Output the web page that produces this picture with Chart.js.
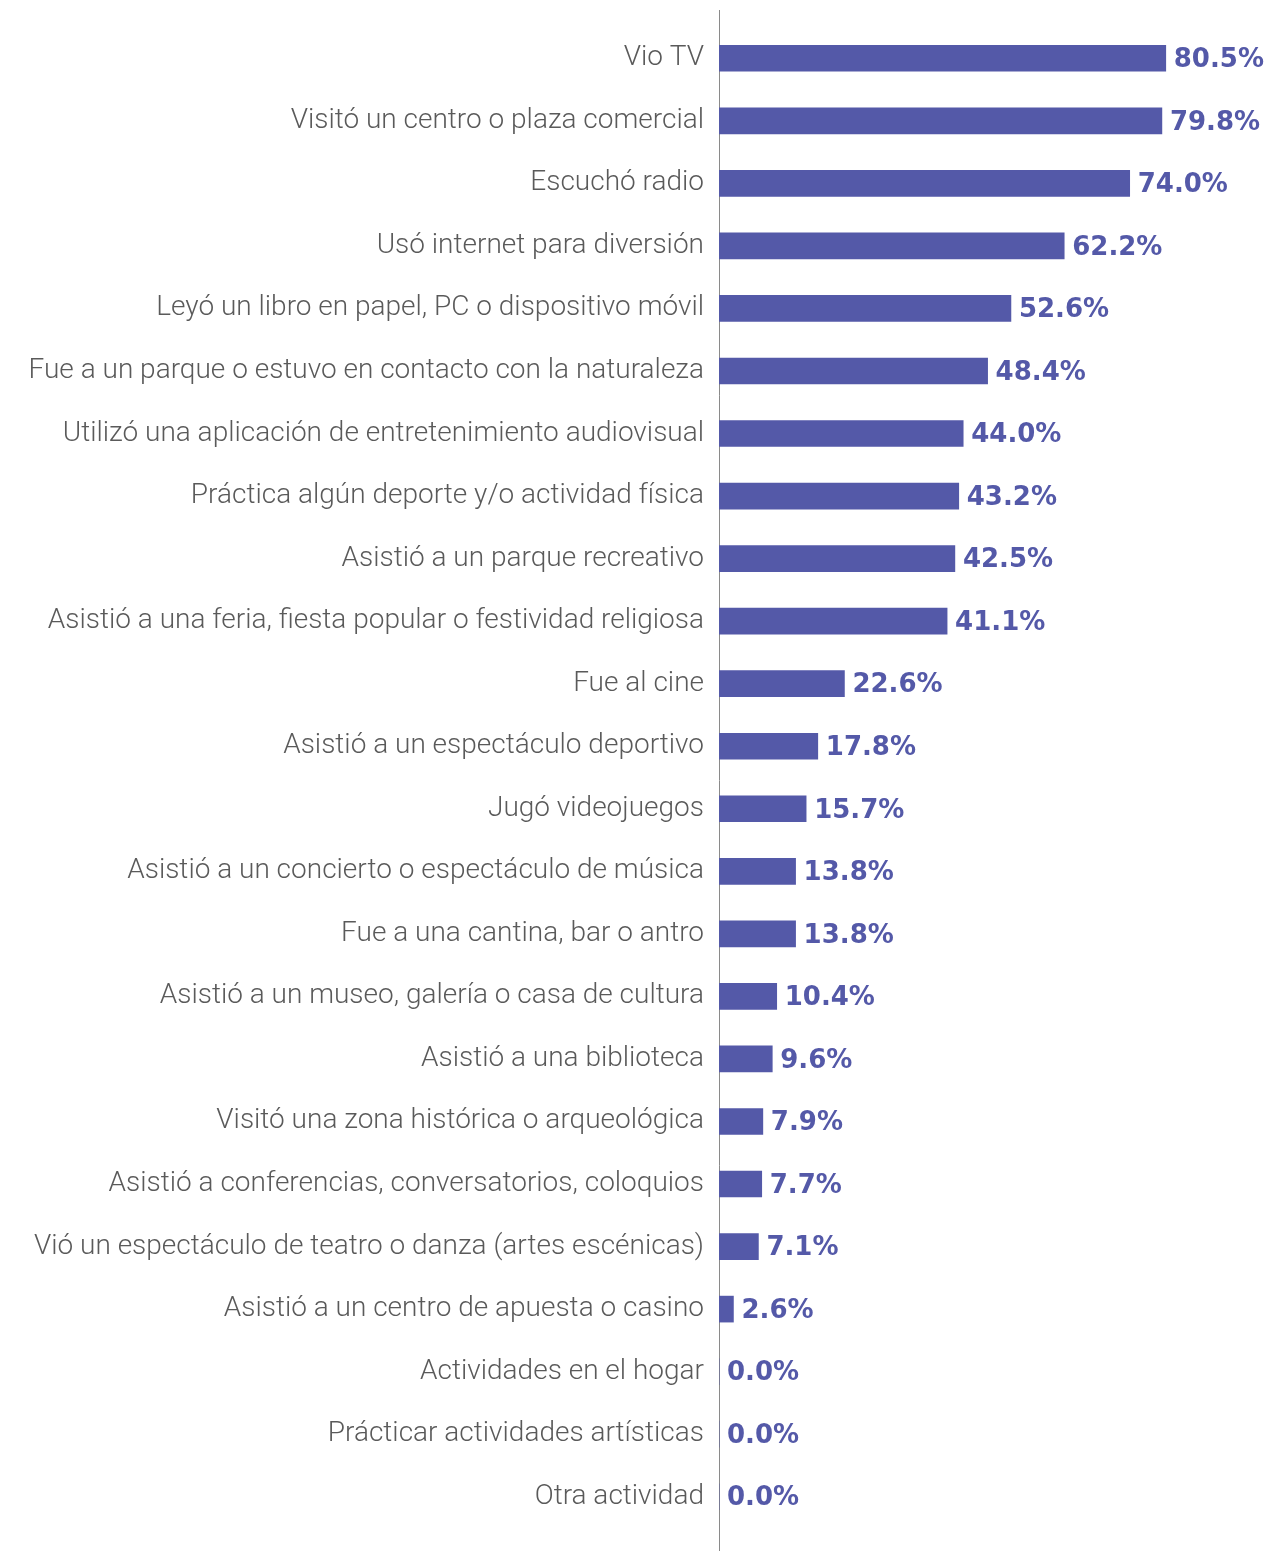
<!DOCTYPE html>
<html>
<head>
<meta charset="utf-8">
<script src="https://cdn.jsdelivr.net/npm/chart.js@4/dist/chart.umd.min.js"></script>
<style>
  html, body { margin: 0; padding: 0; background: #fff; }
  #wrap { width: 1282px; height: 1551px; position: relative; }
</style>
</head>
<body>
<div id="wrap"><canvas id="myChart"></canvas></div>
<script>
// categories and values
const categories = [
  'Vio TV',
  'Visitó un centro o plaza comercial',
  'Escuchó radio',
  'Usó internet para diversión',
  'Leyó un libro en papel, PC o dispositivo móvil',
  'Fue a un parque o estuvo en contacto con la naturaleza',
  'Utilizó una aplicación de entretenimiento audiovisual',
  'Práctica algún deporte y/o actividad física',
  'Asistió a un parque recreativo',
  'Asistió a una feria, fiesta popular o festividad religiosa',
  'Fue al cine',
  'Asistió a un espectáculo deportivo',
  'Jugó videojuegos',
  'Asistió a un concierto o espectáculo de música',
  'Fue a una cantina, bar o antro',
  'Asistió a un museo, galería o casa de cultura',
  'Asistió a una biblioteca',
  'Visitó una zona histórica o arqueológica',
  'Asistió a conferencias, conversatorios, coloquios',
  'Vió un espectáculo de teatro o danza (artes escénicas)',
  'Asistió a un centro de apuesta o casino',
  'Actividades en el hogar',
  'Prácticar actividades artísticas',
  'Otra actividad'
];
const values = [80.5, 79.8, 74.0, 62.2, 52.6, 48.4, 44.0, 43.2, 42.5, 41.1, 22.6, 17.8, 15.7, 13.8, 13.8, 10.4, 9.6, 7.9, 7.7, 7.1, 2.6, 0.0, 0.0, 0.0];

const barColor = '#5459a8';

// value labels at end of each bar
const valueLabels = {
  id: 'valueLabels',
  afterDatasetsDraw(chart) {
    const ctx = chart.ctx;
    const meta = chart.getDatasetMeta(0);
    ctx.save();
    ctx.font = 'bold 26px "DejaVu Sans"';
    ctx.fillStyle = barColor;
    ctx.textBaseline = 'middle';
    ctx.textAlign = 'left';
    meta.data.forEach(function(bar, i){
      ctx.fillText(values[i].toFixed(1) + '%', bar.x + 8, bar.y + 2);
    });
    ctx.restore();
  }
};

// vertical axis line, taller than the chart area
const axisLine = {
  id: 'axisLine',
  beforeDatasetsDraw(chart) {
    const ctx = chart.ctx;
    const x = Math.round(chart.chartArea.left) + 0.5;
    ctx.save();
    ctx.strokeStyle = '#8a8a8a';
    ctx.lineWidth = 1;
    ctx.beginPath();
    ctx.moveTo(x, 10);
    ctx.lineTo(x, 1551);
    ctx.stroke();
    ctx.restore();
  }
};

const data = {
  labels: categories,
  datasets: [{
    data: values,
    backgroundColor: barColor,
    borderWidth: 0,
    barThickness: 26
  }]
};

const config = {
  type: 'bar',
  data: data,
  options: {
    indexAxis: 'y',
    responsive: false,
    animation: false,
    layout: { padding: { top: 27, bottom: 23, left: 0, right: 8 } },
    plugins: {
      legend: { display: false },
      tooltip: { enabled: false }
    },
    scales: {
      x: {
        display: false,
        min: 0,
        max: 100
      },
      y: {
        grid: { display: false, drawTicks: false },
        border: { display: false },
        afterFit(scale) {
          scale.width = 719;
          scale.paddingTop = 0;
          scale.paddingBottom = 0;
        },
        ticks: {
          color: '#5a5a5a',
          padding: 15,
          font: { family: 'Roboto', size: 28, weight: 300 }
        }
      }
    }
  },
  plugins: [axisLine, valueLabels]
};

const canvas = document.getElementById('myChart');
canvas.width = 1282;
canvas.height = 1551;
let myChart = new Chart(canvas, config);
</script>
</body>
</html>
